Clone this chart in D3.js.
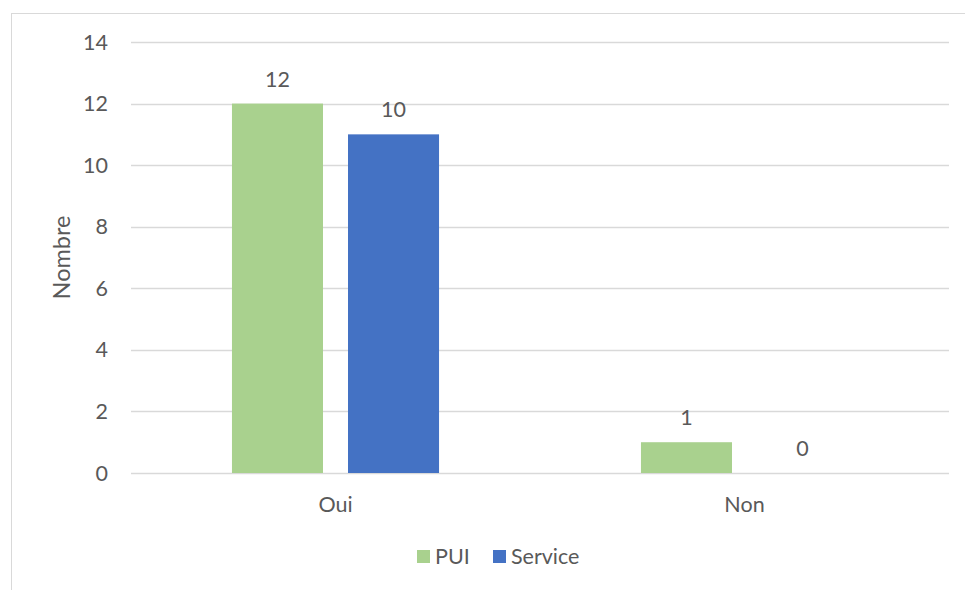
<!DOCTYPE html>
<html>
<head>
<meta charset="utf-8">
<script src="https://cdn.jsdelivr.net/npm/d3@7"></script>
<style>
  body { margin: 0; background: #fff; }
  text { font-family: Lato, "Open Sans", sans-serif; fill: #595959; }
</style>
</head>
<body>
<svg width="965" height="590"></svg>
<script>
const categories = ['Oui', 'Non'];
const series = ['PUI', 'Service'];
const pui = [12, 1];
const service = [11, 0];
// data labels as printed on the chart
const puiLabels = ['12', '1'];
const serviceLabels = ['10', '0'];
const yTicks = [0, 2, 4, 6, 8, 10, 12, 14];
const colors = ['#A9D18E', '#4472C4'];

const svg = d3.select('svg');
const width = +svg.attr('width');
const height = +svg.attr('height');

// chart border
svg.append('rect')
  .attr('x', 11.5).attr('y', 13.5)
  .attr('width', width).attr('height', height)
  .attr('fill', 'none')
  .attr('stroke', '#d9d9d9');

const plotLeft = 131, plotRight = 949, plotTop = 42, plotBottom = 473;
const fs = '21.5px';

const x = d3.scaleBand().domain(categories).range([plotLeft, plotRight]);
const xs = d3.scaleBand().domain(series).range([0, x.bandwidth()]).paddingInner(0.2155).paddingOuter(0.87);
const y = d3.scaleLinear().domain([0, 14]).range([plotBottom, plotTop]);

// gridlines
svg.append('g')
  .selectAll('line')
  .data(yTicks)
  .join('line')
  .attr('x1', plotLeft).attr('x2', plotRight)
  .attr('y1', d => Math.round(y(d)) + 0.5)
  .attr('y2', d => Math.round(y(d)) + 0.5)
  .attr('stroke', '#d9d9d9')
  .attr('stroke-width', 1.3);

// y tick labels
svg.append('g')
  .selectAll('text')
  .data(yTicks)
  .join('text')
  .attr('x', 108)
  .attr('y', d => y(d))
  .attr('dy', '0.35em')
  .attr('text-anchor', 'end')
  .style('font-size', fs)
  .text(d => d);

// y title
svg.append('text')
  .attr('transform', `translate(70,${(plotTop + plotBottom) / 2}) rotate(-90)`)
  .attr('text-anchor', 'middle')
  .style('font-size', '23.5px')
  .text('Nombre');

// x labels
svg.append('g')
  .selectAll('text')
  .data(categories)
  .join('text')
  .attr('x', d => x(d) + x.bandwidth() / 2)
  .attr('y', 512)
  .attr('text-anchor', 'middle')
  .style('font-size', fs)
  .text(d => d);

const rows = categories.map((c, i) => ({
  cat: c,
  vals: [
    { s: 'PUI', v: pui[i], label: puiLabels[i] },
    { s: 'Service', v: service[i], label: serviceLabels[i] }
  ]
}));

const groups = svg.append('g')
  .selectAll('g')
  .data(rows)
  .join('g')
  .attr('transform', d => `translate(${x(d.cat)},0)`);

groups.selectAll('rect')
  .data(d => d.vals)
  .join('rect')
  .attr('x', d => xs(d.s))
  .attr('width', xs.bandwidth())
  .attr('y', d => y(d.v))
  .attr('height', d => y(0) - y(d.v))
  .attr('fill', (d, i) => colors[i]);

groups.selectAll('text')
  .data(d => d.vals)
  .join('text')
  .attr('x', d => xs(d.s) + xs.bandwidth() / 2)
  .attr('y', d => y(d.v) - 17)
  .attr('text-anchor', 'middle')
  .style('font-size', fs)
  .text(d => d.label);

// legend
const legend = svg.append('g');
const legendX = [417, 493];
series.forEach((s, i) => {
  legend.append('rect')
    .attr('x', legendX[i]).attr('y', 550)
    .attr('width', 13).attr('height', 13)
    .attr('fill', colors[i]);
  legend.append('text')
    .attr('x', legendX[i] + 18).attr('y', 564)
    .style('font-size', fs)
    .text(s);
});
</script>
</body>
</html>
